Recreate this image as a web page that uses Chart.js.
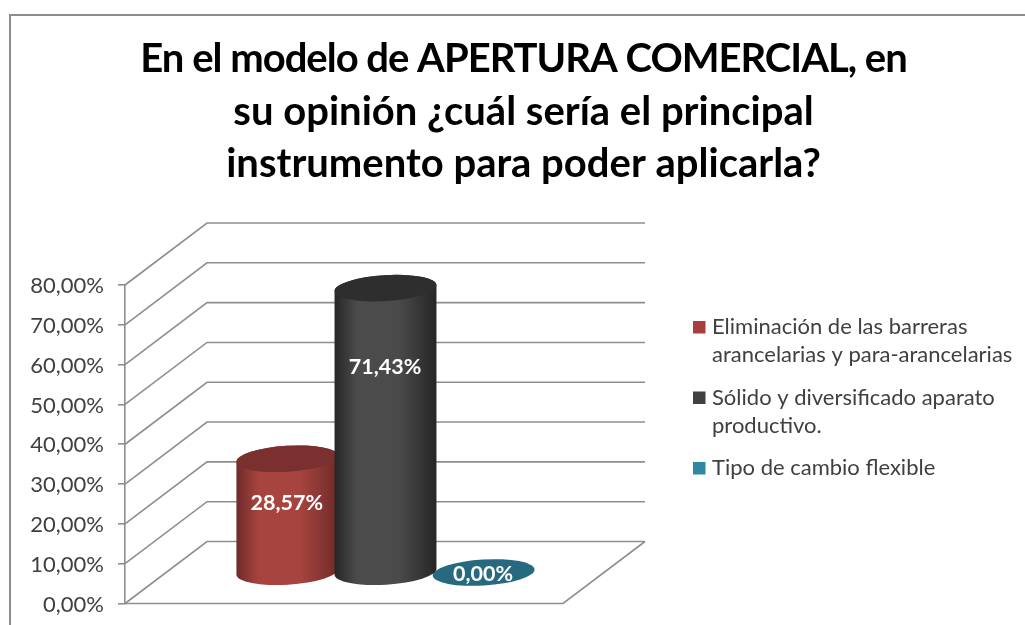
<!DOCTYPE html>
<html lang="es">
<head>
<meta charset="utf-8">
<title>Apertura comercial</title>
<script src="https://cdn.jsdelivr.net/npm/chart.js@4/dist/chart.umd.min.js"></script>
<style>
html,body{margin:0;padding:0;background:#fff;overflow:hidden}
canvas{display:block;filter:blur(.35px)}
</style>
</head>
<body>
<canvas id="c" width="1025" height="625"></canvas>
<script>
const titleLines = ['En el modelo de APERTURA COMERCIAL, en', 'su opinión ¿cuál sería el principal', 'instrumento para poder aplicarla?'];
const categories = [''];
const seriesNames = ['Eliminación de las barreras arancelarias y para-arancelarias', 'Sólido y diversificado aparato productivo.', 'Tipo de cambio flexible'];
const legendLines = [['Eliminación de las barreras', 'arancelarias y para-arancelarias'], ['Sólido y diversificado aparato', 'productivo.'], ['Tipo de cambio flexible']];
const seriesValues = [28.57, 71.43, 0];
const seriesColors = ['#a5403d', '#404040', '#2f87a2'];
const edgeColors = ['#6e2b29', '#262626', '#276a80'];
const midColors = ['#a8443f', '#4b4b4b', '#276a80'];
const topColors = ['#7a302e', '#2e2e2e', '#276a80'];
const tickValues = [0, 10, 20, 30, 40, 50, 60, 70, 80];

const fmt = v => v.toFixed(2).replace('.', ',') + '%';
const FONT = 'Lato, Carlito, "Open Sans", sans-serif';
const DEPTH_X = 82, DEPTH_Y = -62, GRID = '#8e8e8e', TEXT = '#404040';

const scene = {
  id: 'scene',
  beforeInit(chart) {
    // right-hand box holding the legend; reserves its width in the layout
    const box = {
      position: 'right', weight: 0, fullSize: false, options: {},
      isHorizontal() { return false; },
      update(w, h) { this.width = 462; this.height = h; },
      draw() {
        const ctx = chart.ctx;
        const swatchX = this.left + 130, textX = swatchX + 19;
        let y = 334;
        ctx.save();
        ctx.font = '22px ' + FONT;
        ctx.textBaseline = 'alphabetic';
        ctx.textAlign = 'left';
        legendLines.forEach((lines, i) => {
          ctx.fillStyle = seriesColors[i];
          ctx.fillRect(swatchX, y - 13, 12.5, 12.5);
          ctx.fillStyle = TEXT;
          lines.forEach((t, j) => ctx.fillText(t, textX, y + j * 28));
          y += lines.length * 28 + 14.5;
        });
        ctx.restore();
      }
    };
    Chart.layouts.addBox(chart, box);
  },
  beforeDraw(chart) {
    const ctx = chart.ctx;
    ctx.save();
    ctx.strokeStyle = '#8c8c8c';
    ctx.lineWidth = 2;
    ctx.beginPath();
    ctx.moveTo(10, chart.height);
    ctx.lineTo(10, 15);
    ctx.lineTo(chart.width, 15);
    ctx.stroke();
    // title: one size, tracking tightened on the capitals-heavy first line
    ctx.fillStyle = '#000';
    ctx.font = 'bold 40px ' + FONT;
    ctx.textAlign = 'center';
    ctx.textBaseline = 'alphabetic';
    titleLines.forEach((t, i) => {
      ctx.letterSpacing = i === 0 ? '-1px' : '0px';
      ctx.fillText(t, 523.5, 72 + i * 52.5);
    });
    ctx.restore();
  },
  beforeDatasetsDraw(chart) {
    const ctx = chart.ctx, { left, right, bottom } = chart.chartArea, y = chart.scales.y;
    ctx.save();
    ctx.strokeStyle = GRID;
    ctx.lineWidth = 1.6;
    y.ticks.forEach(t => {
      const p = y.getPixelForValue(t.value);
      ctx.beginPath();
      ctx.moveTo(left, p);
      ctx.lineTo(left + DEPTH_X, p + DEPTH_Y);
      ctx.lineTo(right + DEPTH_X, p + DEPTH_Y);
      ctx.stroke();
    });
    ctx.beginPath();
    ctx.moveTo(left, bottom);
    ctx.lineTo(right, bottom);
    ctx.lineTo(right + DEPTH_X, bottom + DEPTH_Y);
    ctx.stroke();
    ctx.restore();
  },
  beforeDatasetDraw() { return false; },
  afterDatasetsDraw(chart) {
    const ctx = chart.ctx;
    const order = seriesValues.map((v, i) => i).sort((a, b) => seriesValues[a] - seriesValues[b]);
    const rot = -3.5 * Math.PI / 180;
    order.forEach(i => {
      const el = chart.getDatasetMeta(i).data[0];
      const cx = el.x + DEPTH_X / 2 + 0.5, base = el.base + DEPTH_Y / 2, top = el.y + DEPTH_Y / 2;
      const rx = el.width / 2 + 2, ry = 13;
      ctx.save();
      if (base - top > 1) {
        const g = ctx.createLinearGradient(cx - rx, 0, cx + rx, 0);
        g.addColorStop(0, edgeColors[i]);
        g.addColorStop(0.22, midColors[i]);
        g.addColorStop(0.62, midColors[i]);
        g.addColorStop(1, edgeColors[i]);
        ctx.fillStyle = g;
        ctx.beginPath();
        ctx.ellipse(cx, base, rx, ry, rot, Math.PI, 0, true);
        ctx.ellipse(cx, top, rx, ry, rot, 0, Math.PI, true);
        ctx.closePath();
        ctx.fill();
      }
      ctx.fillStyle = topColors[i];
      ctx.beginPath();
      ctx.ellipse(cx, top, rx, ry, rot, 0, Math.PI * 2);
      ctx.fill();
      ctx.restore();
    });
    ctx.save();
    ctx.font = 'bold 21.5px ' + FONT;
    ctx.fillStyle = '#fff';
    ctx.textAlign = 'center';
    ctx.textBaseline = 'middle';
    seriesValues.forEach((v, i) => {
      const el = chart.getDatasetMeta(i).data[0];
      const base = el.base + DEPTH_Y / 2, top = el.y + DEPTH_Y / 2;
      ctx.fillText(fmt(v), el.x + DEPTH_X / 2, base - (base - top) * (0.55 + 0.0025 * v) + 1.5);
    });
    ctx.restore();
  }
};

new Chart(document.getElementById('c'), {
  type: 'bar',
  data: {
    labels: categories,
    datasets: seriesNames.map((n, i) => ({
      label: n,
      data: [seriesValues[i]],
      backgroundColor: seriesColors[i],
      categoryPercentage: 0.672,
      barPercentage: 1
    }))
  },
  plugins: [scene],
  options: {
    responsive: false,
    animation: false,
    layout: { padding: { left: 0, right: 0, top: 285, bottom: 21.5 } },
    plugins: {
      legend: { display: false },
      tooltip: { enabled: false },
      title: { display: false }
    },
    scales: {
      x: { display: false },
      y: {
        min: 0, max: 80,
        afterFit(s) { s.width = 125; s.paddingTop = 0; s.paddingBottom = 0; },
        afterBuildTicks(s) { s.ticks = tickValues.map(v => ({ value: v })); },
        grid: { drawOnChartArea: false, drawTicks: true, tickLength: 7, color: GRID, lineWidth: 1.6 },
        border: { color: GRID, width: 1.6 },
        ticks: { color: TEXT, font: { family: FONT, size: 22 }, padding: 14, labelOffset: 1, callback: v => fmt(v) }
      }
    }
  }
});
</script>
</body>
</html>
